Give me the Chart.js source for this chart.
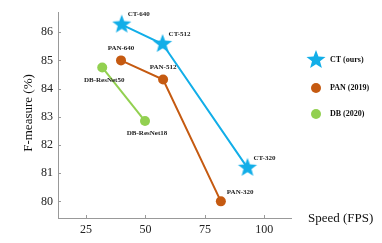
<!DOCTYPE html>
<html lang="en">
<head>
  <meta charset="UTF-8">
  <title>Speed vs F-measure</title>
  <script src="https://cdn.jsdelivr.net/npm/chart.js"></script>
  <style>
    body { margin: 0; background: #fff; }
    #wrap { width: 382px; height: 243px; position: relative; }
  </style>
</head>
<body>
  <div id="wrap"><canvas id="grafico"></canvas></div>

  <script>
    // data
    const ctSpeed = [40, 57.2, 92.9];
    const ctF = [86.27, 85.58, 81.19];
    const ctNames = ['CT-640', 'CT-512', 'CT-320'];

    const panSpeed = [39.7, 57.4, 81.7];
    const panF = [85.0, 84.32, 80.0];
    const panNames = ['PAN-640', 'PAN-512', 'PAN-320'];

    const dbSpeed = [31.8, 49.8];
    const dbF = [84.75, 82.85];
    const dbNames = ['DB-ResNet50', 'DB-ResNet18'];

    const seriesNames = ['CT (ours)', 'PAN (2019)', 'DB (2020)'];
    const xTicks = [25, 50, 75, 100];
    const yTicks = [80, 81, 82, 83, 84, 85, 86];

    // where each point label sits relative to its marker
    const labelPlace = [
      ['right', 'right', 'right'],
      ['above', 'above', 'right'],
      ['below', 'below']
    ];

    const blue = '#12aee8';
    const orange = '#c55a11';
    const green = '#92d050';
    const serif = "'Liberation Serif', 'Times New Roman', serif";

    function starImage(r, color) {
      const c = document.createElement('canvas');
      c.width = c.height = r * 2 + 2;
      const g = c.getContext('2d');
      g.translate(r + 1, r + 1);
      g.beginPath();
      for (let i = 0; i < 10; i++) {
        const rad = i % 2 ? r * 0.42 : r;
        const a = -Math.PI / 2 + i * Math.PI / 5;
        g.lineTo(rad * Math.cos(a), rad * Math.sin(a));
      }
      g.closePath();
      g.fillStyle = color;
      g.fill();
      return c;
    }
    const star = starImage(10, blue);

    const pts = (xs, ys) => xs.map((x, i) => ({ x, y: ys[i] }));

    const extras = {
      id: 'extras',
      afterDatasetsDraw(chart) {
        const ctx = chart.ctx;
        const { left, bottom } = chart.chartArea;
        const xs = chart.scales.x, ys = chart.scales.y;
        ctx.save();
        // inward tick marks
        ctx.strokeStyle = '#999';
        ctx.lineWidth = 1;
        ctx.beginPath();
        xTicks.forEach(v => {
          const px = Math.round(xs.getPixelForValue(v)) + 0.5;
          ctx.moveTo(px, bottom); ctx.lineTo(px, bottom - 3);
        });
        yTicks.forEach(v => {
          const py = Math.round(ys.getPixelForValue(v)) + 0.5;
          ctx.moveTo(left, py); ctx.lineTo(left + 3, py);
        });
        ctx.stroke();

        // point labels
        const names = [ctNames, panNames, dbNames];
        ctx.font = 'bold 7px ' + serif;
        ctx.fillStyle = '#222';
        ctx.textBaseline = 'middle';
        chart.data.datasets.forEach((ds, di) => {
          chart.getDatasetMeta(di).data.forEach((el, i) => {
            const place = labelPlace[di][i];
            if (place === 'right') {
              ctx.textAlign = 'left';
              ctx.fillText(names[di][i], el.x + 6, el.y - (di === 0 ? 10 : 9));
            } else if (place === 'above') {
              ctx.textAlign = 'center';
              ctx.fillText(names[di][i], el.x, el.y - 12);
            } else {
              ctx.textAlign = 'center';
              ctx.fillText(names[di][i], el.x + 2, el.y + 12.5);
            }
          });
        });

        // axis titles
        ctx.fillStyle = '#111';
        ctx.font = '13px ' + serif;
        ctx.textAlign = 'left';
        ctx.fillText('Speed (FPS)', 308, 219);
        ctx.save();
        ctx.translate(29, 113);
        ctx.rotate(-Math.PI / 2);
        ctx.textAlign = 'center';
        ctx.fillText('F-measure (%)', 0, 0);
        ctx.restore();

        // legend
        const ly = [60, 88, 114];
        ctx.font = 'bold 8px ' + serif;
        ctx.textAlign = 'left';
        chart.data.datasets.forEach((ds, di) => {
          if (di === 0) {
            ctx.drawImage(star, 316 - star.width / 2, ly[di] - star.height / 2);
          } else {
            ctx.beginPath();
            ctx.arc(316, ly[di], 5, 0, Math.PI * 2);
            ctx.fillStyle = ds.backgroundColor;
            ctx.fill();
          }
          ctx.fillStyle = '#111';
          ctx.fillText(seriesNames[di], 330, ly[di]);
        });
        ctx.restore();
      }
    };

    new Chart(document.getElementById('grafico'), {
      type: 'scatter',
      data: {
        datasets: [
          {
            label: seriesNames[0],
            data: pts(ctSpeed, ctF),
            showLine: true,
            borderColor: blue,
            backgroundColor: blue,
            borderWidth: 2,
            pointStyle: star,
            order: 1
          },
          {
            label: seriesNames[1],
            data: pts(panSpeed, panF),
            showLine: true,
            borderColor: orange,
            backgroundColor: orange,
            borderWidth: 2,
            pointRadius: 5,
            pointBorderWidth: 0,
            order: 2
          },
          {
            label: seriesNames[2],
            data: pts(dbSpeed, dbF),
            showLine: true,
            borderColor: green,
            backgroundColor: green,
            borderWidth: 2,
            pointRadius: 5,
            pointBorderWidth: 0,
            order: 3
          }
        ]
      },
      options: {
        responsive: true,
        maintainAspectRatio: false,
        animation: false,
        layout: { padding: { left: 0, top: 7, right: 91, bottom: 0 } },
        plugins: { legend: { display: false }, tooltip: { enabled: false } },
        scales: {
          x: {
            min: 13.2,
            max: 111.2,
            afterFit: s => { s.height = 25; },
            afterBuildTicks: s => { s.ticks = xTicks.map(v => ({ value: v })); },
            grid: { display: false, drawTicks: false },
            border: { color: '#999', width: 1 },
            ticks: { padding: 5, color: '#222', font: { family: serif, size: 12 } }
          },
          y: {
            min: 79.41,
            max: 86.71,
            afterFit: s => { s.width = 58; },
            afterBuildTicks: s => { s.ticks = yTicks.map(v => ({ value: v })); },
            grid: { display: false, drawTicks: false },
            border: { color: '#999', width: 1 },
            ticks: { padding: 5, color: '#222', font: { family: serif, size: 12 } }
          }
        }
      },
      plugins: [extras]
    });
  </script>
</body>
</html>
